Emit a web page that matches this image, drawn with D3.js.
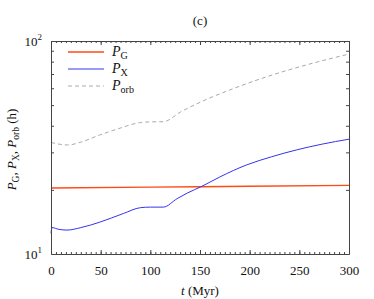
<!DOCTYPE html>
<html>
<head>
<meta charset="utf-8">
<script src="https://cdn.jsdelivr.net/npm/d3@7"></script>
<style>
  body { margin: 0; background: #fff; }
  svg text { font-family: "Liberation Serif", "DejaVu Serif", serif; fill: #111; }
</style>
</head>
<body>
<div id="chart"></div>
<script>
// values
var tG = [0, 100, 200, 300];
var pG = [20.4, 20.6, 20.8, 21.0];

var tX = [0, 1, 8, 16, 30, 49, 73, 90, 100, 113, 127, 137, 152, 170, 197, 222, 247, 273, 300];
var pX = [12.5, 13.3, 13.05, 12.95, 13.3, 14.1, 15.5, 16.5, 16.6, 16.6, 18.2, 19.3, 20.8, 23.0, 26.2, 28.6, 30.8, 32.8, 34.6];

var tOrb = [0, 8, 17, 30, 49, 66, 90, 100, 113, 131, 155, 180, 205, 230, 265, 300];
var pOrb = [33.4, 32.8, 32.5, 33.5, 36.2, 38.5, 41.4, 41.7, 41.8, 46.6, 52.8, 58.9, 65, 71, 79, 86.8];

var xTicks = [0, 50, 100, 150, 200, 250, 300];
var yMinor = [20, 30, 40, 50, 60, 70, 80, 90];

var margin = {top: 41, right: 25, bottom: 45, left: 51},
    width = 374 - margin.left - margin.right,
    height = 299 - margin.top - margin.bottom;

var x = d3.scaleLinear().domain([0, 300]).range([0, width]);
var y = d3.scaleLog().domain([10, 100]).range([height, 0]);

var svg = d3.select("#chart").append("svg")
    .attr("width", 374)
    .attr("height", 299);

var g = svg.append("g")
    .attr("transform", "translate(" + margin.left + "," + margin.top + ")");

// panel label
svg.append("text")
    .attr("x", 200).attr("y", 25)
    .attr("text-anchor", "middle")
    .style("font-size", "13px")
    .text("(c)");

function zip(ts, ps) {
    return ts.map(function(t, i) { return {t: t, p: ps[i]}; });
}

var line = d3.line()
    .x(function(d) { return x(d.t); })
    .y(function(d) { return y(d.p); })
    .curve(d3.curveMonotoneX);

g.append("path")
    .datum(zip(tOrb, pOrb))
    .attr("fill", "none")
    .attr("stroke", "#aaaaaa")
    .attr("stroke-width", 1)
    .attr("stroke-dasharray", "4,3")
    .attr("d", line);

g.append("path")
    .datum(zip(tG, pG))
    .attr("fill", "none")
    .attr("stroke", "#ff4a14")
    .attr("stroke-width", 1.4)
    .attr("d", line);

g.append("path")
    .datum(zip(tX, pX))
    .attr("fill", "none")
    .attr("stroke", "#3434ee")
    .attr("stroke-width", 1)
    .attr("d", line);

// frame + inward ticks
var axisColor = "#444";
function styleAxis(sel) {
    sel.select(".domain").attr("stroke", axisColor);
    sel.selectAll(".tick line").attr("stroke", axisColor);
    sel.selectAll(".tick text").style("font-size", "13px").attr("fill", "#111");
}

var xMinorTicks = d3.range(0, 301, 5);

g.append("g")
    .attr("transform", "translate(0," + height + ")")
    .call(d3.axisBottom(x).tickValues(xMinorTicks).tickSize(-2).tickFormat("").tickSizeOuter(0))
    .call(styleAxis);
g.append("g")
    .attr("transform", "translate(0," + height + ")")
    .call(d3.axisBottom(x).tickValues(xTicks).tickSize(-4).tickSizeOuter(0).tickPadding(12))
    .call(styleAxis);
g.append("g")
    .call(d3.axisTop(x).tickValues(xMinorTicks).tickSize(-2).tickFormat("").tickSizeOuter(0))
    .call(styleAxis);
g.append("g")
    .call(d3.axisTop(x).tickValues(xTicks).tickSize(-4).tickFormat("").tickSizeOuter(0))
    .call(styleAxis);

g.append("g")
    .call(d3.axisLeft(y).tickValues(yMinor).tickSize(-3).tickFormat("").tickSizeOuter(0))
    .call(styleAxis);
g.append("g")
    .attr("transform", "translate(" + width + ",0)")
    .call(d3.axisRight(y).tickValues(yMinor).tickSize(-3).tickFormat("").tickSizeOuter(0))
    .call(styleAxis);

// y labels 10^1, 10^2
[10, 100].forEach(function(v) {
    var t = g.append("text")
        .attr("x", -9)
        .attr("y", y(v) + 5)
        .attr("text-anchor", "end")
        .style("font-size", "13px");
    t.append("tspan").text("10");
    t.append("tspan").attr("dy", -6).style("font-size", "9px").text(String(Math.round(Math.log10(v))));
});

// x axis title
var xt = svg.append("text")
    .attr("x", margin.left + width / 2)
    .attr("y", 295)
    .attr("text-anchor", "middle")
    .style("font-size", "13px");
xt.append("tspan").style("font-style", "italic").text("t");
xt.append("tspan").text(" (Myr)");

// y axis title
var yt = svg.append("text")
    .attr("transform", "translate(16," + (margin.top + height / 2 + 2) + ") rotate(-90)")
    .attr("text-anchor", "middle")
    .style("font-size", "13px");
function pSym(sel, sub, last) {
    sel.append("tspan").style("font-style", "italic").text("P");
    sel.append("tspan").attr("dy", 3).style("font-size", "9.5px").text(sub);
    sel.append("tspan").attr("dy", -3).text(last);
}
pSym(yt, "G", ", ");
pSym(yt, "X", ", ");
pSym(yt, "orb", " (h)");

// legend
var legend = [
    {name: "G", color: "#ff4a14", dash: null, w: 1.4},
    {name: "X", color: "#3434ee", dash: null, w: 1},
    {name: "orb", color: "#aaaaaa", dash: "4,3", w: 1}
];
legend.forEach(function(d, i) {
    var ly = 52 + i * 17;
    svg.append("line")
        .attr("x1", 68).attr("x2", 104)
        .attr("y1", ly).attr("y2", ly)
        .attr("stroke", d.color)
        .attr("stroke-width", d.w)
        .attr("stroke-dasharray", d.dash);
    var lt = svg.append("text")
        .attr("x", 112).attr("y", ly + 4)
        .style("font-size", "14px");
    lt.append("tspan").style("font-style", "italic").text("P");
    lt.append("tspan").attr("dy", 3).style("font-size", "10px").text(d.name);
});
</script>
</body>
</html>
